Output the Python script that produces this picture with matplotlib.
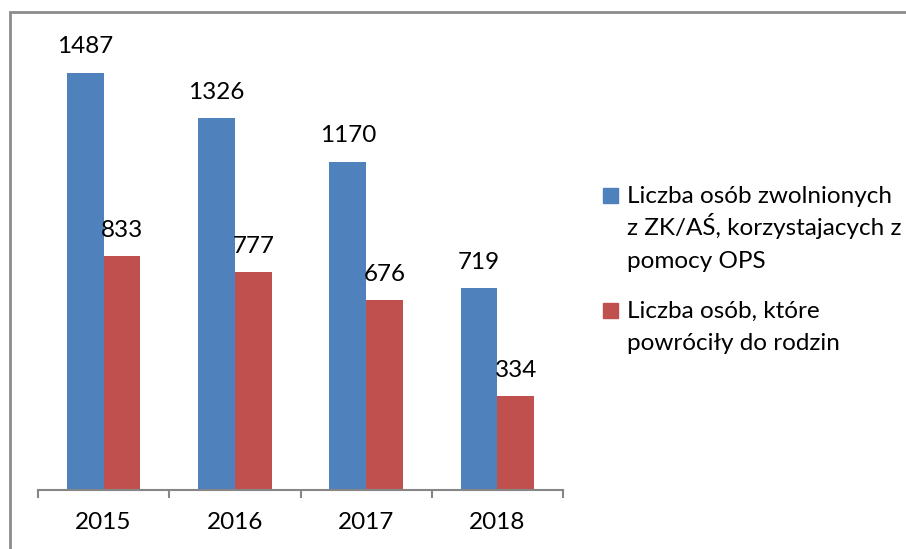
import numpy as np
import matplotlib.pyplot as plt
from matplotlib.patches import Rectangle

plt.rcParams['font.family'] = ['Lato', 'DejaVu Sans']

years = ["2015", "2016", "2017", "2018"]
released = [1487, 1326, 1170, 719]
returned = [833, 777, 676, 334]
labels = [
    ["Liczba osób zwolnionych", "z ZK/AŚ, korzystajacych z", "pomocy OPS"],
    ["Liczba osób, które", "powróciły do rodzin"],
]
colors = ["#4F81BD", "#C0504D"]
FS = 17.5

fig = plt.figure(figsize=(9.06, 5.49), dpi=100)
ax = fig.add_axes([38 / 906, 59 / 549, 525 / 906, 449 / 549])

x = np.arange(len(years))
w = 0.28
b1 = ax.bar(x - w / 2, released, w, color=colors[0])
b2 = ax.bar(x + w / 2, returned, w, color=colors[1])
ax.bar_label(b1, padding=11, fontsize=FS)
ax.bar_label(b2, padding=11, fontsize=FS)

ax.set_xlim(-0.5, len(years) - 0.5)
ax.set_ylim(0, 1600)
ax.set_yticks([])
for s in ["left", "top", "right"]:
    ax.spines[s].set_visible(False)
ax.spines["bottom"].set_color("#868686")
ax.spines["bottom"].set_linewidth(1.5)

ax.set_xticks(x)
ax.set_xticklabels(years, fontsize=FS)
ax.tick_params(axis="x", which="major", length=0, pad=16)
ax.set_xticks(np.arange(len(years) + 1) - 0.5, minor=True)
ax.tick_params(axis="x", which="minor", length=6, width=1.5, color="#868686")

# legend drawn by hand so the squares sit on the first text line
first_base = [203, 318]
for lines, c, y in zip(labels, colors, first_base):
    fig.patches.append(Rectangle((603 / 906, 1 - y / 549), 15 / 906, 15 / 549,
                                 transform=fig.transFigure, color=c))
    for i, line in enumerate(lines):
        fig.text(627 / 906, 1 - (y + i * 32.5) / 549, line, fontsize=FS,
                 va="baseline")

# outer frame
fig.patches.append(Rectangle((10 / 906, -0.1), 1.1, 1 - 12 / 549 + 0.1,
                             transform=fig.transFigure, fill=False,
                             edgecolor="#8C8C8C", linewidth=2))

fig.savefig("out.png", dpi=100)
